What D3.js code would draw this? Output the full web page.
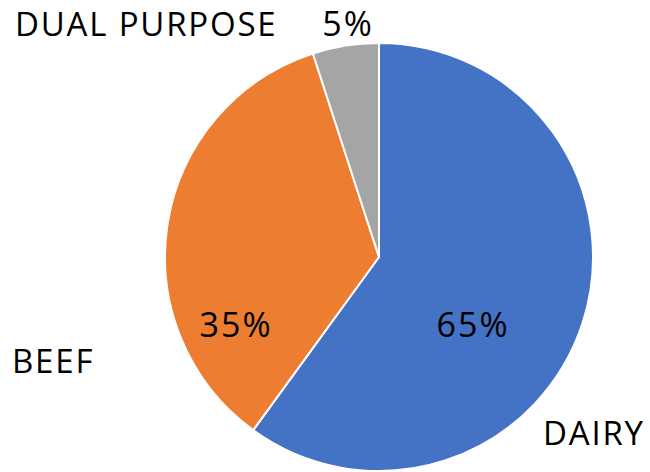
<!DOCTYPE html>
<html>
<head>
<meta charset="utf-8">
<script src="https://cdn.jsdelivr.net/npm/d3@7"></script>
<style>
  body { margin: 0; background: #fff; }
  text { font-family: "Open Sans", "Noto Sans", sans-serif; fill: #000; }
</style>
</head>
<body>
<div id="chart"></div>
<script>
// Slice data (angles), printed labels as shown
const categories = ['DAIRY', 'BEEF', 'DUAL PURPOSE'];
const values = [60, 35, 5];
const pctLabels = ['65%', '35%', '5%'];
const colors = ['#4472C4', '#ED7D31', '#A5A5A5'];

const width = 650, height = 472;
const cx = 379, cy = 257, radius = 214;

const svg = d3.select('#chart')
  .append('svg')
  .attr('width', width)
  .attr('height', height);

const g = svg.append('g')
  .attr('transform', `translate(${cx},${cy})`);

const pie = d3.pie().sort(null).value(d => d);
const arc = d3.arc().innerRadius(0).outerRadius(radius);

g.selectAll('path')
  .data(pie(values))
  .enter()
  .append('path')
  .attr('d', arc)
  .attr('fill', (d, i) => colors[i])
  .attr('stroke', '#fff')
  .attr('stroke-width', 2)
  .attr('stroke-linejoin', 'round');

// label placement (Excel style positions)
const pctPos = [[473, 337], [236, 337], [348, 36]];
const catPos = [[543, 445], [12, 373], [15, 36]];

svg.selectAll('.pct')
  .data(pctLabels)
  .enter()
  .append('text')
  .attr('class', 'pct')
  .attr('x', (d, i) => pctPos[i][0])
  .attr('y', (d, i) => pctPos[i][1])
  .attr('text-anchor', 'middle')
  .style('font-size', '34px')
  .style('letter-spacing', '2px')
  .text(d => d);

svg.selectAll('.cat')
  .data(categories)
  .enter()
  .append('text')
  .attr('class', 'cat')
  .attr('x', (d, i) => catPos[i][0])
  .attr('y', (d, i) => catPos[i][1])
  .style('font-size', '33px')
  .style('letter-spacing', '1.8px')
  .text(d => d);
</script>
</body>
</html>
